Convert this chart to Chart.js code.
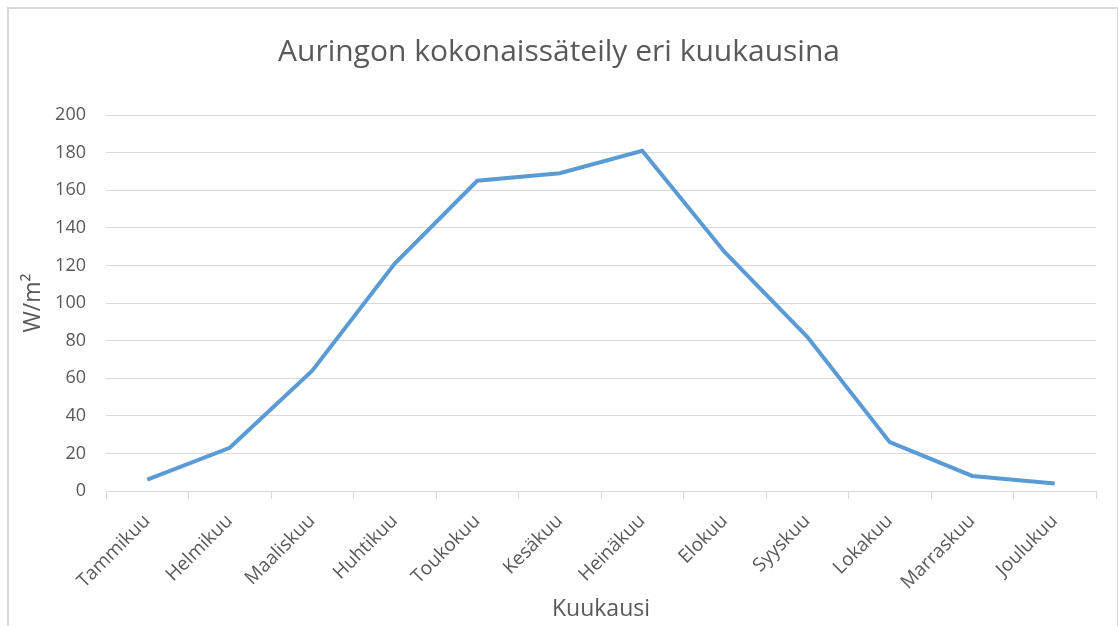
<!DOCTYPE html>
<html>
<head>
<meta charset="utf-8">
<script src="https://cdn.jsdelivr.net/npm/chart.js@4"></script>
<style>
  html, body { margin: 0; padding: 0; background: #fff; }
  #wrap { position: relative; width: 1118px; height: 626px; overflow: hidden; }
  #frame {
    position: absolute; left: 7px; top: 7px; width: 1108px; height: 640px;
    border-top: 2px solid #d9d9d9; border-left: 2px solid #d9d9d9; border-right: 1px solid #d9d9d9;
    pointer-events: none;
  }
</style>
</head>
<body>
<div id="wrap">
  <canvas id="solarChart" width="1118" height="626"></canvas>
  <div id="frame"></div>
</div>
<script>
const months = ['Tammikuu', 'Helmikuu', 'Maaliskuu', 'Huhtikuu', 'Toukokuu', 'Kesäkuu',
  'Heinäkuu', 'Elokuu', 'Syyskuu', 'Lokakuu', 'Marraskuu', 'Joulukuu'];
const radiation = [6, 23, 64, 121, 165, 169, 181, 127, 82, 26, 8, 4];
const yTicks = [0, 20, 40, 60, 80, 100, 120, 140, 160, 180, 200];

const textColor = '#595959';
const gridColor = '#d9d9d9';
const fontFamily = '"Open Sans", sans-serif';

// x axis title sits a bit right of the plot centre, like in the original
const xTitlePlugin = {
  id: 'xTitle',
  afterDraw(chart) {
    const { ctx } = chart;
    ctx.save();
    ctx.fillStyle = textColor;
    ctx.font = '23px ' + fontFamily;
    ctx.textAlign = 'center';
    ctx.textBaseline = 'middle';
    ctx.fillText('Kuukausi', 601, 609);
    ctx.restore();
  },
};

new Chart(document.getElementById('solarChart'), {
  type: 'line',
  data: {
    labels: months,
    datasets: [
      {
        label: 'W/m²',
        data: radiation,
        borderColor: '#5B9BD5',
        borderWidth: 4,
        pointRadius: 0,
        tension: 0,
        fill: false,
      },
    ],
  },
  plugins: [xTitlePlugin],
  options: {
    responsive: false,
    animation: false,
    layout: { padding: 0 },
    plugins: {
      legend: { display: false },
      tooltip: { enabled: false },
      title: {
        display: true,
        text: 'Auringon kokonaissäteily eri kuukausina',
        color: textColor,
        font: { family: fontFamily, size: 30, weight: 'normal' },
        padding: { top: 34, bottom: 45 },
      },
    },
    scales: {
      x: {
        type: 'category',
        offset: true,
        grid: {
          offset: true,
          drawOnChartArea: false,
          drawTicks: true,
          tickLength: 8,
          color: gridColor,
        },
        border: { display: true, color: gridColor, width: 1 },
        ticks: {
          color: textColor,
          font: { family: fontFamily, size: 19 },
          minRotation: 45,
          maxRotation: 45,
          padding: 11,
        },
        afterFit: (scale) => { scale.height = 135; },
      },
      y: {
        min: 0,
        max: 200,
        afterBuildTicks: (scale) => { scale.ticks = yTicks.map((v) => ({ value: v })); },
        grid: { color: gridColor, lineWidth: 1, drawTicks: false },
        border: { display: false },
        ticks: {
          color: textColor,
          font: { family: fontFamily, size: 18 },
          padding: 20,
        },
        title: {
          display: true,
          text: 'W/m²',
          color: textColor,
          font: { family: fontFamily, size: 23 },
          padding: { top: 20, bottom: 0 },
        },
        afterFit: (scale) => { scale.width = 106; },
      },
      // empty right axis, only keeps space on the right side
      yRight: {
        position: 'right',
        min: 0,
        max: 200,
        grid: { display: false },
        border: { display: false },
        ticks: { display: false },
        afterFit: (scale) => { scale.width = 22; },
      },
    },
  },
});
</script>
</body>
</html>
